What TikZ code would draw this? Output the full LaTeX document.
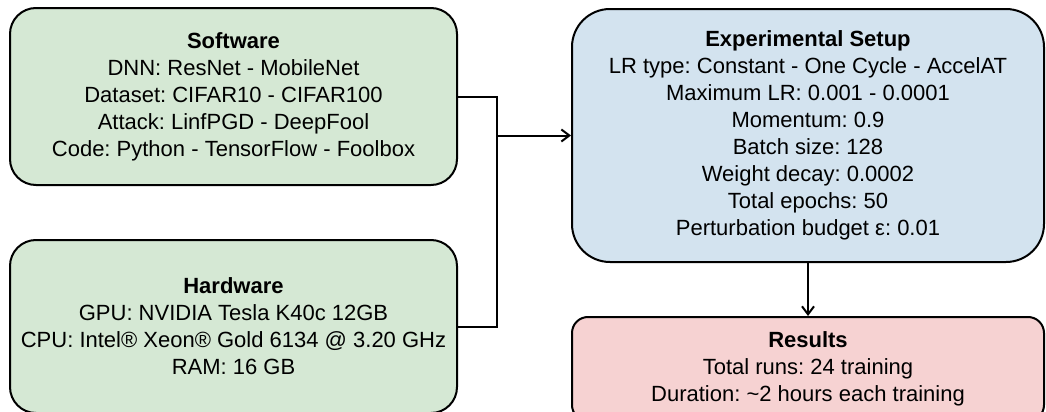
\documentclass[tikz,border=0pt]{standalone}
\usepackage{fontspec}
\setmainfont{Liberation Sans}
\frenchspacing
\usetikzlibrary{arrows.meta, positioning}
\definecolor{boxgreen}{HTML}{D5E8D4}
\definecolor{boxblue}{HTML}{D3E3EF}
\definecolor{boxpink}{HTML}{F6D2D2}
\tikzstyle{infobox} = [rectangle, draw=black, line width=1pt, text centered, align=center, inner sep=0pt, font=\fontsize{11}{13.5}\selectfont]
\tikzstyle{link} = [line width=1pt]
\tikzstyle{arrow} = [line width=1pt, -{Straight Barb[length=4pt, width=6pt]}]

\begin{document}
\begin{tikzpicture}[x=0.5pt, y=-0.5pt]
        \clip (0,0) rectangle (1046,412);
        % Nodes
        \node (software) [infobox, minimum width=223.5pt, minimum height=88.5pt, rounded corners=13pt, fill=boxgreen] at (233.5,96.5) {\textbf{Software}\\DNN: ResNet - MobileNet\\Dataset: CIFAR10 - CIFAR100\\Attack: LinfPGD - DeepFool\\Code: Python - TensorFlow - Foolbox};
        \node (hardware) [infobox, minimum width=223.5pt, minimum height=86.5pt, rounded corners=13pt, fill=boxgreen, below=26.5pt of software] {\textbf{Hardware}\\GPU: NVIDIA Tesla K40c 12GB\\CPU: Intel® Xeon® Gold 6134 @ 3.20 GHz\\RAM: 16 GB};

        \node (setup) [infobox, minimum width=236pt, minimum height=126.5pt, rounded corners=19pt, fill=boxblue] at (808,135.5) {\textbf{Experimental Setup}\\LR type: Constant - One Cycle - AccelAT\\Maximum LR: 0.001 - 0.0001\\Momentum: 0.9\\Batch size: 128\\Weight decay: 0.0002\\Total epochs: 50\\Perturbation budget ε: 0.01};
        \node (results) [infobox, minimum width=236pt, minimum height=52pt, rounded corners=8pt, fill=boxpink, below=26.5pt of setup] {\textbf{Results}\\Total runs: 24 training\\Duration: \textasciitilde2 hours each training};

        % Connections
        \coordinate (join) at ([xshift=-37pt]setup.west);
        \draw [link] (software) -| (join) |- (hardware);
        \draw [arrow] (join) -- (setup);
        \draw [arrow] (setup) -- (results);
    \end{tikzpicture}
\end{document}
